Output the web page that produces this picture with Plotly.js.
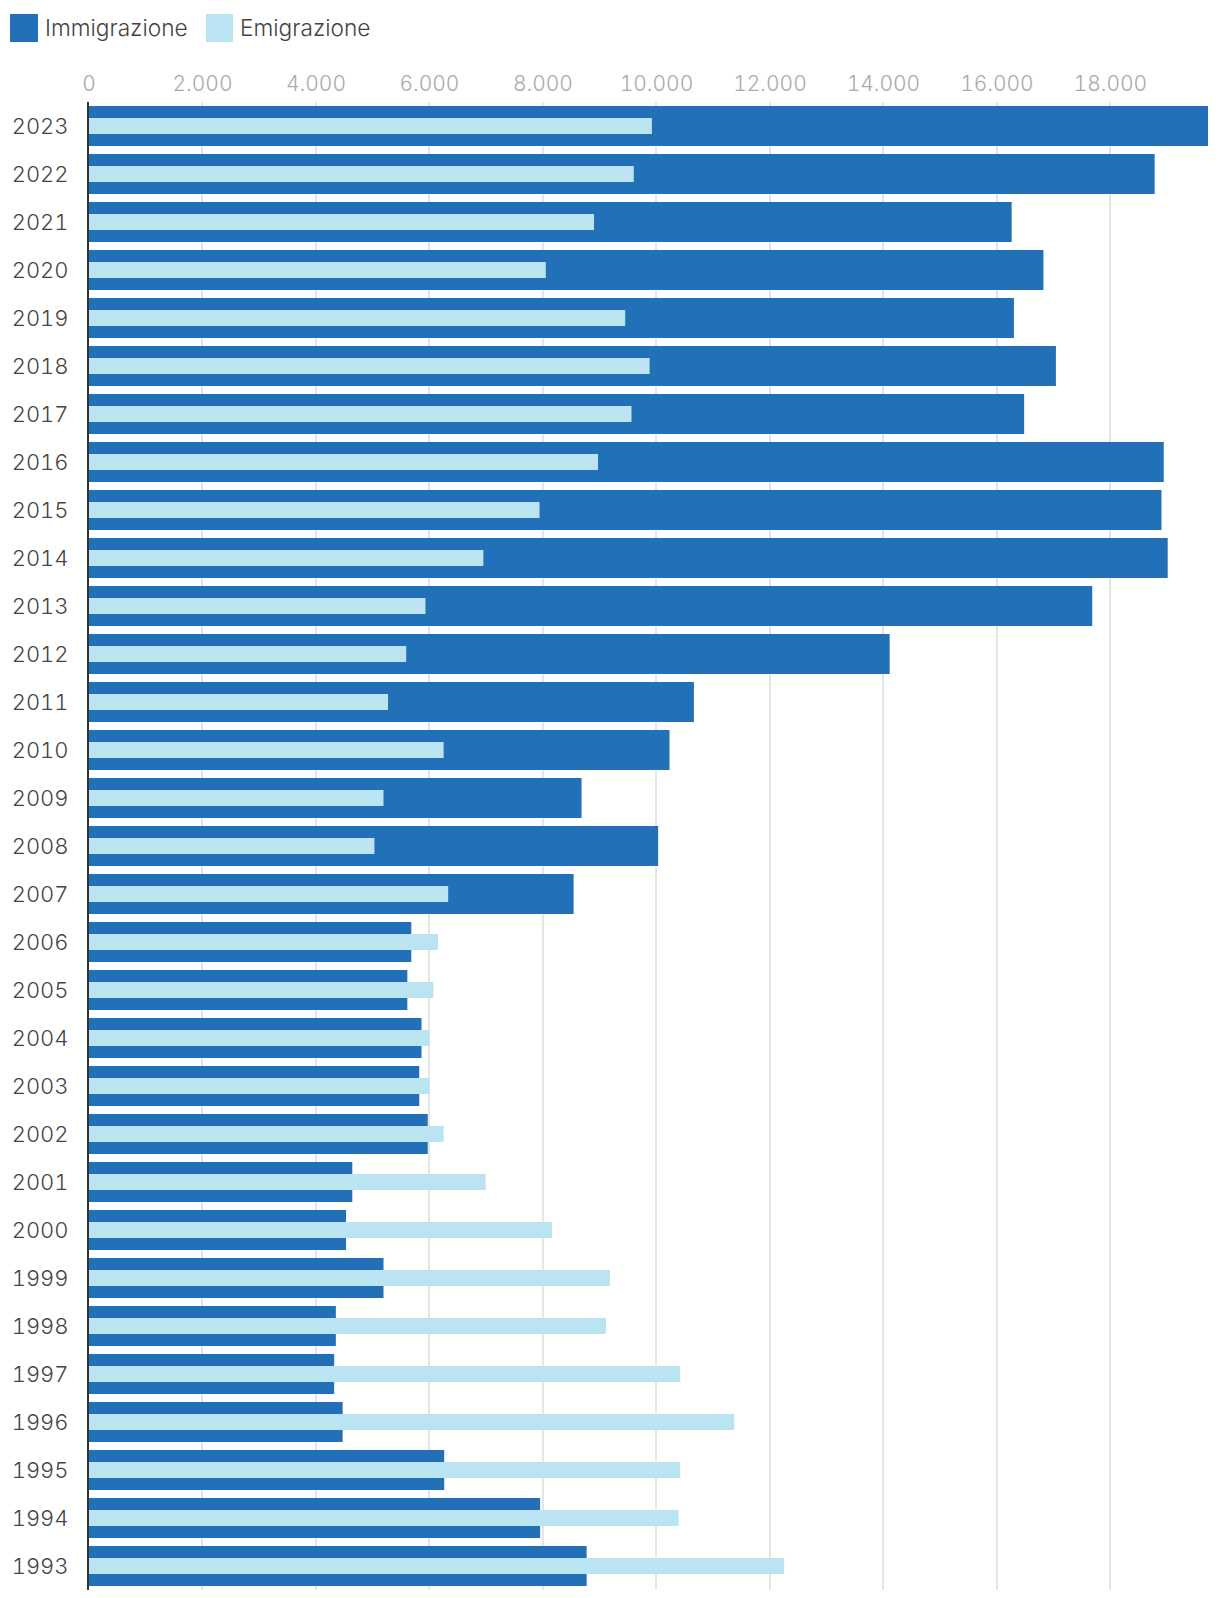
<!DOCTYPE html>
<html>
<head>
<meta charset="utf-8">
<script src="https://cdn.plot.ly/plotly-3.0.1.min.js"></script>
<style>
  html, body { margin: 0; padding: 0; background: #ffffff; }
  #chart { width: 1220px; height: 1598px; }
  #chart text { font-feature-settings: "tnum" 1; font-variant-numeric: tabular-nums; }
</style>
</head>
<body>
<div id="chart"></div>
<script>
// ---- Data ----
const years = ["2023","2022","2021","2020","2019","2018","2017","2016","2015","2014",
               "2013","2012","2011","2010","2009","2008","2007","2006","2005","2004",
               "2003","2002","2001","2000","1999","1998","1997","1996","1995","1994","1993"];

const immigrazione = [19750, 18780, 16260, 16820, 16300, 17040, 16480, 18940, 18900, 19010,
                      17680, 14110, 10660, 10230, 8680, 10030, 8540, 5680, 5610, 5860,
                      5820, 5970, 4640, 4530, 5190, 4350, 4320, 4470, 6260, 7950, 8770];

const emigrazione = [9920, 9600, 8900, 8050, 9450, 9880, 9560, 8970, 7940, 6950,
                     5930, 5590, 5270, 6250, 5190, 5030, 6330, 6150, 6070, 6000,
                     6000, 6250, 6990, 8160, 9180, 9110, 10420, 11370, 10420, 10390, 12250];

const seriesNames = ["Immigrazione", "Emigrazione"];
const xTickValues = [0, 2000, 4000, 6000, 8000, 10000, 12000, 14000, 16000, 18000];

// ---- Styling ----
const DARK = "#2170b8";
const LIGHT = "#bae4f2";
const FONT = "Inter, DejaVu Sans, sans-serif";
const WEIGHT = 300;

const W = 1220, H = 1598;
const M = { l: 89, r: 12, t: 102, b: 8 };
const PW = W - M.l - M.r, PH = H - M.t - M.b;
const px = x => (x - M.l) / PW;
const py = y => (H - M.b - y) / PH;

const traces = [
  {
    type: "bar", orientation: "h", name: seriesNames[0],
    y: years, x: immigrazione, width: 0.833,
    marker: { color: DARK, line: { width: 0 } },
    hoverinfo: "skip", showlegend: false
  },
  {
    type: "bar", orientation: "h", name: seriesNames[1],
    y: years, x: emigrazione, width: 0.333,
    marker: { color: LIGHT, line: { width: 0 } },
    hoverinfo: "skip", showlegend: false
  }
];

const layout = {
  width: W, height: H,
  margin: M,
  paper_bgcolor: "#ffffff", plot_bgcolor: "#ffffff",
  barmode: "overlay",
  separators: ",.",
  font: { family: FONT, color: "#444444", size: 20, weight: WEIGHT },
  xaxis: {
    side: "top",
    range: [0, 19720],
    tickvals: xTickValues,
    tickformat: ",d",
    separatethousands: true,
    showgrid: true, gridcolor: "#e6e6e6", gridwidth: 2,
    zeroline: false, showline: false,
    ticks: "",
    ticklabelstandoff: 6,
    tickfont: { family: FONT, size: 21, color: "#aaaaaa", weight: WEIGHT },
    fixedrange: true
  },
  yaxis: {
    type: "category",
    autorange: "reversed",
    showgrid: false, zeroline: false,
    showline: true, linecolor: "#333333", linewidth: 2,
    ticks: "",
    ticklabelstandoff: 14,
    tickfont: { family: FONT, size: 22, color: "#444444", weight: WEIGHT },
    fixedrange: true
  },
  shapes: [
    { type: "rect", xref: "paper", yref: "paper", x0: px(10), x1: px(38), y0: py(42), y1: py(14),
      fillcolor: DARK, line: { width: 0 } },
    { type: "rect", xref: "paper", yref: "paper", x0: px(206), x1: px(233), y0: py(42), y1: py(14),
      fillcolor: LIGHT, line: { width: 0 } }
  ],
  annotations: [
    { xref: "paper", yref: "paper", x: px(43), y: py(28), xanchor: "left", yanchor: "middle",
      text: seriesNames[0], showarrow: false, font: { family: FONT, size: 22.7, color: "#444444", weight: WEIGHT } },
    { xref: "paper", yref: "paper", x: px(238), y: py(28), xanchor: "left", yanchor: "middle",
      text: seriesNames[1], showarrow: false, font: { family: FONT, size: 22.7, color: "#444444", weight: WEIGHT } }
  ]
};

Plotly.newPlot("chart", traces, layout, { displayModeBar: false, staticPlot: true });
</script>
</body>
</html>
